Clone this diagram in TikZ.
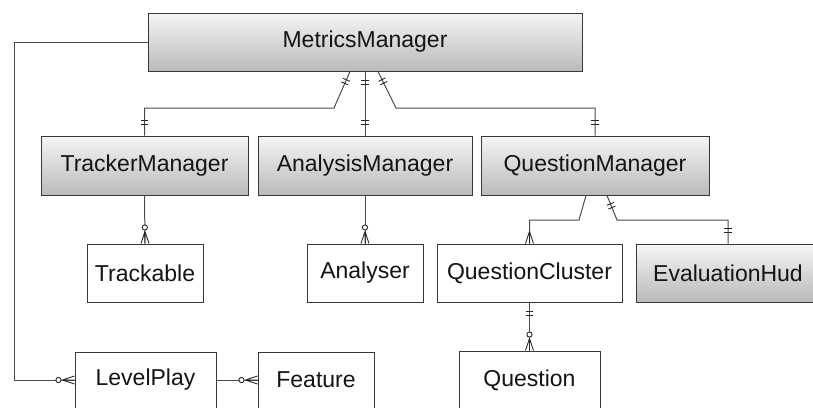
\documentclass[tikz,border=0pt]{standalone}
\usepackage{fontspec}
\setmainfont{Liberation Sans}
\usetikzlibrary{calc}
\tikzset{
  box/.style={draw=black!78, line width=1pt, inner sep=0pt, text=black!92,
    font=\fontsize{23}{27}\selectfont},
  plainbox/.style={box, fill=white},
  graybox/.style={box, top color=black!4, bottom color=black!27},
  conn/.style={draw=black!70, line width=1pt},
  markline/.style={draw=black!85, line width=0.9pt},
  onpath/.style={pos=#1, sloped, allow upside down},
  % two bars (exactly one) near the start of a connector
  pics/onestart/.style={code={
    \draw[markline] (9,-3.8) -- (9,3.8) (13,-3.8) -- (13,3.8);}},
  % two bars (exactly one) near the end of a connector
  pics/oneend/.style={code={
    \draw[markline] (-11,-3.8) -- (-11,3.8) (-15,-3.8) -- (-15,3.8);}},
  % crow's foot (many)
  pics/manyend/.style={code={
    \draw[markline] (-12,0) -- (0,-4) (-12,0) -- (0,0) (-12,0) -- (0,4);}},
  % circle and crow's foot (zero or many)
  pics/zeromanyend/.style={code={
    \draw[markline] (-12,0) -- (0,-4) (-12,0) -- (0,0) (-12,0) -- (0,4);
    \draw[markline, fill=white] (-16,0) circle (2.6);}},
}
\begin{document}
\begin{tikzpicture}[x=1pt,y=-1pt]
\useasboundingbox (0,0) rectangle (813,407);
\clip (0,0) rectangle (813,407);

% entities
\node[graybox, minimum width=434, minimum height=58] (mm) at (365,42) {MetricsManager};
\node[graybox, minimum width=207, minimum height=59] (tm) at (144.5,165.5) {TrackerManager};
\node[graybox, minimum width=214, minimum height=59] (am) at (365,165.5) {AnalysisManager};
\node[graybox, minimum width=228, minimum height=59] (qm) at (595,165.5) {QuestionManager};
\node[plainbox, minimum width=116, minimum height=58] (trk) at (145,273) {Trackable};
\node[plainbox, minimum width=116, minimum height=58] (an) at (365,273) {Analyser};
\node[plainbox, minimum width=185, minimum height=58] (qc) at (529.5,273) {QuestionCluster};
\node[graybox, minimum width=184, minimum height=58] (eh) at (728,273) {EvaluationHud};
\node[plainbox, minimum width=141, minimum height=58] (q) at (529.5,380) {Question};
\node[plainbox, minimum width=141, minimum height=56] (lp) at (145.5,380) {LevelPlay};
\node[plainbox, minimum width=116, minimum height=56] (ft) at (316,380) {Feature};

% relationships
\draw[conn] ($(mm.south)+(-15,0)$) -- pic[onpath=0]{onestart} (334,108)
  -| pic[onpath=1]{oneend} (tm.north);
\draw[conn] (mm.south) -- pic[onpath=0]{onestart} pic[onpath=1]{oneend} (am.north);
\draw[conn] ($(mm.south)+(13,0)$) -- pic[onpath=0]{onestart} (396,108)
  -| pic[onpath=1]{oneend} (qm.north);

\draw[conn] (tm.south) -- pic[onpath=1]{zeromanyend} (trk.north);
\draw[conn] (am.south) -- pic[onpath=1]{zeromanyend} (an.north);

\draw[conn] ($(qm.south)+(-9,0)$) -- (579,220) -| pic[onpath=1]{manyend} (qc.north);
\draw[conn] ($(qm.south)+(12,0)$) -- pic[onpath=0]{onestart} (617,220)
  -| pic[onpath=1]{oneend} (eh.north);

\draw[conn] (qc.south) -- pic[onpath=0]{onestart} pic[onpath=1]{zeromanyend} (q.north);

\draw[conn] (mm.west) -- (14,42) |- pic[onpath=1]{zeromanyend} (lp.west);
\draw[conn] (lp.east) -- pic[onpath=1]{zeromanyend} (ft.west);
\end{tikzpicture}
\end{document}
